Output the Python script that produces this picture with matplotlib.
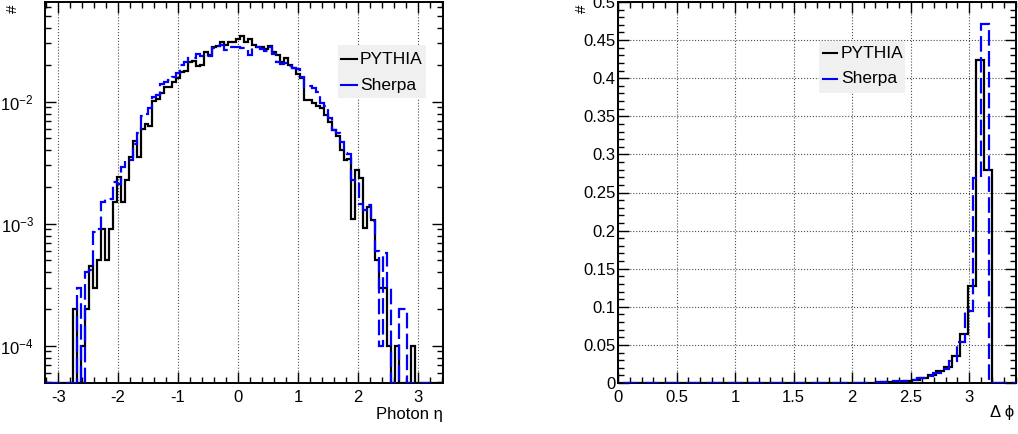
import numpy as np
import matplotlib
matplotlib.use("Agg")
import matplotlib.pyplot as plt
from matplotlib.patches import Rectangle
from matplotlib.ticker import MultipleLocator, LogLocator, NullFormatter, FuncFormatter

plt.rcParams['font.family'] = ['Liberation Sans', 'DejaVu Sans']
plt.rcParams['mathtext.fontset'] = 'custom'
plt.rcParams['mathtext.rm'] = 'Liberation Sans'
plt.rcParams['mathtext.it'] = 'Liberation Sans:italic'
plt.rcParams['mathtext.default'] = 'regular'
plt.rcParams['axes.unicode_minus'] = False

# ---------------- data ----------------
series_names = ["PYTHIA", "Sherpa"]

# Photon eta: 100 bins from -3.22 to 3.42
eta_lo, eta_hi, eta_nbins = -3.22, 3.42, 100
eta_pythia = [
    0, 0, 0, 0, 0, 0, 0, 2.0e-4, 0, 1.0e-4,
    2.0e-4, 4.5e-4, 3.0e-4, 5.0e-4, 9.0e-4, 5.0e-4, 9.0e-4, 1.5e-3, 2.4e-3, 1.5e-3,
    2.3e-3, 3.5e-3, 4.8e-3, 3.5e-3, 6.0e-3, 6.6e-3, 6.3e-3, 1.02e-2, 1.05e-2, 1.17e-2,
    1.31e-2, 1.33e-2, 1.46e-2, 1.55e-2, 1.76e-2, 1.78e-2, 2.13e-2, 2.16e-2, 1.95e-2, 2.0e-2,
    2.57e-2, 2.41e-2, 2.82e-2, 2.85e-2, 3.1e-2, 2.9e-2, 3.1e-2, 3.1e-2, 3.24e-2, 3.46e-2,
    3.1e-2, 3.24e-2, 2.9e-2, 2.82e-2, 2.82e-2, 2.7e-2, 2.85e-2, 2.57e-2, 2.41e-2, 2.13e-2,
    2.26e-2, 2.0e-2, 1.88e-2, 1.68e-2, 1.55e-2, 1.03e-2, 1.03e-2, 9.8e-3, 9.3e-3, 8.8e-3,
    7.8e-3, 6.8e-3, 5.9e-3, 5.2e-3, 4.0e-3, 3.3e-3, 3.4e-3, 1.1e-3, 2.75e-3, 2.35e-3,
    9.2e-4, 1.38e-3, 1.07e-3, 5.0e-4, 3.0e-4, 3.0e-4, 1.0e-4, 0, 1.0e-4, 0,
    0, 0, 1.0e-4, 0, 0, 0, 0, 0, 0, 0,
]
eta_sherpa = [
    0, 0, 0, 0, 0, 0, 0, 0, 3.0e-4, 0,
    4.0e-4, 4.2e-4, 8.5e-4, 9.0e-4, 1.5e-3, 1.6e-3, 1.6e-3, 2.2e-3, 2.1e-3, 2.9e-3,
    3.3e-3, 3.3e-3, 4.5e-3, 5.5e-3, 7.6e-3, 8.0e-3, 8.9e-3, 1.1e-2, 1.13e-2, 1.4e-2,
    1.46e-2, 1.5e-2, 1.6e-2, 1.72e-2, 2.0e-2, 2.1e-2, 2.27e-2, 2.27e-2, 2.45e-2, 2.35e-2,
    2.34e-2, 2.36e-2, 2.76e-2, 2.85e-2, 2.9e-2, 2.65e-2, 2.8e-2, 2.8e-2, 2.78e-2, 2.77e-2,
    2.77e-2, 2.41e-2, 2.82e-2, 2.82e-2, 2.7e-2, 2.6e-2, 2.82e-2, 2.45e-2, 2.13e-2, 2.05e-2,
    2.07e-2, 1.97e-2, 1.9e-2, 1.85e-2, 1.6e-2, 1.33e-2, 1.34e-2, 1.3e-2, 1.21e-2, 9.7e-3,
    9.3e-3, 7.3e-3, 5.9e-3, 5.5e-3, 4.7e-3, 3.8e-3, 3.7e-3, 2.3e-3, 2.2e-3, 1.45e-3,
    1.3e-3, 1.42e-3, 1.05e-3, 6.0e-4, 1.0e-4, 5.8e-4, 3.0e-4, 0, 0, 2.0e-4,
    2.0e-4, 0, 0, 0, 0, 0, 0,
]

# Delta phi: 50 bins of width 0.068
dphi_width = 0.068
dphi_pythia_start = 0.0
dphi_sherpa_start = 0.04
dphi_pythia = [0] * 26 + [
    1e-4, 2e-4, 2e-4, 3e-4, 4e-4, 5e-4, 6e-4, 9e-4, 1.2e-3, 1.8e-3,
    2.6e-3, 4.0e-3, 6.6e-3, 1.1e-2, 1.54e-2, 2.06e-2, 3.5e-2, 6.45e-2, 0.127, 0.424,
    0.279, 0, 0, 0,
]
dphi_sherpa = [0] * 27 + [
    1e-4, 2e-4, 3e-4, 4e-4, 6e-4, 9e-4, 1.3e-3, 2e-3, 3e-3, 4e-3,
    6e-3, 9e-3, 1.3e-2, 1.9e-2, 2.9e-2, 5.4e-2, 9.5e-2, 0.269, 0.471, 0, 0, 0, 0,
]

eta_xticks = [-3, -2, -1, 0, 1, 2, 3]
dphi_xticks = [0, 0.5, 1, 1.5, 2, 2.5, 3]
dphi_yticks = [0, 0.05, 0.1, 0.15, 0.2, 0.25, 0.3, 0.35, 0.4, 0.45, 0.5]

# ---------------- style ----------------
W, H = 1018, 434
fig = plt.figure(figsize=(W / 100, H / 100), dpi=100)
fig.patch.set_facecolor('white')

col_p = 'black'
col_s = '#0000ff'
lw = 1.6
dash = (0, (7, 2.4))
tick_fs = 12

def px_axes(x0, y0, x1, y1):
    return fig.add_axes([x0 / W, 1 - y1 / H, (x1 - x0) / W, (y1 - y0) / H])

def style_axes(ax):
    for s in ax.spines.values():
        s.set_linewidth(1.4)
        s.set_zorder(2.5)
    ax.tick_params(which='both', direction='in', top=True, right=True, labelsize=tick_fs, width=1.0)
    ax.tick_params(which='major', length=8)
    ax.tick_params(which='minor', length=4)
    ax.tick_params(axis='x', pad=5)

def gfmt(v, pos):
    return '%g' % v

def legend(ax, x0, y0, w, h, ly1, ly2, lx0, lx1, tx):
    ax.add_patch(Rectangle((x0, y0), w, h, transform=ax.transAxes, facecolor='#f0f0f0',
                           edgecolor='none', zorder=4, clip_on=False))
    for yy, c, name in [(ly1, col_p, series_names[0]), (ly2, col_s, series_names[1])]:
        ax.plot([lx0, lx1], [yy, yy], color=c, lw=1.5, transform=ax.transAxes, zorder=5,
                clip_on=False)
        ax.text(tx, yy, name, transform=ax.transAxes, fontsize=12.5, va='center', ha='left',
                zorder=5)

# ---------------- left: photon eta ----------------
ax1 = px_axes(45, 2, 443, 383)
style_axes(ax1)
ymin1, ymax1 = 4.95e-5, 0.0656
eta_edges = np.linspace(eta_lo, eta_hi, eta_nbins + 1)
p = np.maximum(np.asarray(eta_pythia, float), ymin1)
s = np.maximum(np.asarray(eta_sherpa, float), ymin1)
ax1.set_yscale('log')
ax1.stairs(p, eta_edges, baseline=ymin1, color=col_p, lw=lw, zorder=3)
ax1.stairs(s, eta_edges[:len(s) + 1], baseline=ymin1, color=col_s, lw=lw, linestyle=dash, zorder=3)
ax1.set_xlim(eta_lo, eta_hi)
ax1.set_ylim(ymin1, ymax1)
ax1.set_xticks(eta_xticks)
ax1.xaxis.set_major_formatter(FuncFormatter(gfmt))
ax1.xaxis.set_minor_locator(MultipleLocator(0.2))
ax1.yaxis.set_major_locator(LogLocator(base=10, numticks=10))
ax1.yaxis.set_minor_locator(LogLocator(base=10, subs=np.arange(2, 10), numticks=20))
ax1.yaxis.set_minor_formatter(NullFormatter())
ax1.tick_params(axis='y', pad=8)
ax1.grid(True, which='major', axis='x', linestyle=':', color='0.3', lw=0.8, zorder=0)
ax1.set_axisbelow(True)
legend(ax1, 0.736, 0.748, 0.221, 0.139, 0.850, 0.782, 0.744, 0.784, 0.791)
fig.text(443 / W, 1 - 415 / H, 'Photon η', ha='right', va='center', fontsize=12)
fig.text(13 / W, 1 - 9 / H, '#', ha='center', va='center', fontsize=11, rotation=90)

# ---------------- right: delta phi ----------------
ax2 = px_axes(618.3, 2, 1015.7, 383)
style_axes(ax2)
nb = len(dphi_pythia)
edges_p = dphi_pythia_start + dphi_width * np.arange(nb + 1)
edges_s = dphi_sherpa_start + dphi_width * np.arange(len(dphi_sherpa) + 1)
ax2.stairs(dphi_pythia, edges_p, baseline=0, color=col_p, lw=lw, zorder=3)
ax2.stairs(dphi_sherpa, edges_s, baseline=0, color=col_s, lw=lw, linestyle=dash, zorder=3)
ax2.set_xlim(0, 3.4)
ax2.set_ylim(0, 0.5)
ax2.set_xticks(dphi_xticks)
ax2.set_yticks(dphi_yticks)
ax2.xaxis.set_major_formatter(FuncFormatter(gfmt))
ax2.yaxis.set_major_formatter(FuncFormatter(gfmt))
ax2.xaxis.set_minor_locator(MultipleLocator(0.1))
ax2.yaxis.set_minor_locator(MultipleLocator(0.01))
ax2.tick_params(axis='y', pad=2)
ax2.grid(True, which='major', linestyle=':', color='0.3', lw=0.8, zorder=0)
ax2.set_axisbelow(True)
legend(ax2, 0.505, 0.762, 0.216, 0.1365, 0.865, 0.798, 0.516, 0.550, 0.560)
fig.text(1014 / W, 1 - 413 / H, 'Δ ϕ', ha='right', va='center', fontsize=12)
fig.text(582 / W, 1 - 9 / H, '#', ha='center', va='center', fontsize=11, rotation=90)

fig.savefig('out.png', dpi=100, facecolor='white')
